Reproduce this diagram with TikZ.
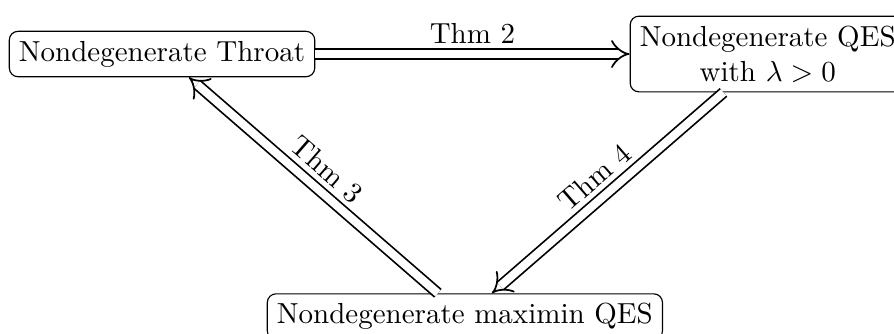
\documentclass[tikz,border=0pt]{standalone}
\usepackage{amsmath}
\usepackage{tikz}
\usetikzlibrary{
  arrows,
  positioning,
  calc}

\begin{document}
\begin{tikzpicture}[node distance = 2em,
  box/.style={draw, rounded corners=3pt},
  thm/.style={double, double distance=2.8pt, semithick, -implies}]
\useasboundingbox (-1.964,-3.382) rectangle (8.873,0.655);
\node[box](throat) at (0,0){Nondegenerate Throat};
\node[box, right = 3.81cm of throat, align=center](qes){Nondegenerate QES\\ with $\lambda > 0$};
\coordinate (mid) at ($(throat)!0.5!(qes)$);
\node[box, below = 2.9cm of mid](maximin){Nondegenerate maximin QES};

%lines
\draw[thm](throat) -- node[above]{Thm 2} (qes);
\draw[thm](qes) -- node[above, sloped]{Thm 4} (maximin);
\draw[thm](maximin) -- node[above, sloped]{Thm 3} (throat);

\end{tikzpicture}
\end{document}
